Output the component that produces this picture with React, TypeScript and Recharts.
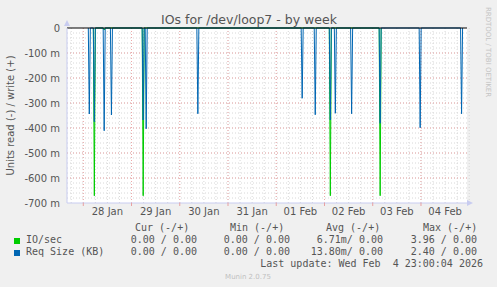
import { LineChart, Line, XAxis, YAxis, CartesianGrid, ReferenceLine } from 'recharts'

// x = hours since 28 Jan 00:00, y = milli-units (m)
const ioTimes = [5.5, 10.4, 29.8, 122.9, 147.7]
const ioValues = [-671, -8, -671, -671, -671]
const reqTimes = [3.0, 5.5, 10.4, 14.0, 29.8, 31.3, 57.0, 108.9, 115.4, 122.9, 125.4, 133.5, 147.7, 167.6, 188.2]
const reqValues = [-344, -375, -411, -348, -368, -403, -343, -281, -347, -368, -341, -343, -381, -399, -343]

const yTicks = [0, -100, -200, -300, -400, -500, -600, -700]
const midnights = [0, 24, 48, 72, 96, 120, 144, 168]
const noons = [12, 36, 60, 84, 108, 132, 156, 180]
const dayLabels = ['28 Jan', '29 Jan', '30 Jan', '31 Jan', '01 Feb', '02 Feb', '03 Feb', '04 Feb']

const legendRows = [
  { name: 'IO/sec', color: '#00CC00', cur: '0.00 / 0.00', min: '0.00 / 0.00', avg: '6.71m/ 0.00', max: '3.96 / 0.00' },
  { name: 'Req Size (KB)', color: '#0066B3', cur: '0.00 / 0.00', min: '0.00 / 0.00', avg: '13.80m/ 0.00', max: '2.40 / 0.00' },
]

const X_DOMAIN: [number, number] = [-8.1, 190.9]
const HALF = 0.5 // half a sample step (30 min resolution)

const spikes = (times: number[], values: number[]) =>
  times.flatMap((t, i) => [
    { t: t - HALF, v: 0 },
    { t, v: values[i] },
    { t: t + HALF, v: 0 },
  ])

const ioData = spikes(ioTimes, ioValues)
const reqData = spikes(reqTimes, reqValues)

const minorX = Array.from({ length: 34 }, (_, i) => -6 + i * 6)
const minorY = Array.from({ length: 34 }, (_, i) => -20 - i * 20)
const majorY = [-100, -200, -300, -400, -500, -600]

const FONT = 'DejaVu Sans, sans-serif'
const MONO = 'DejaVu Sans Mono, monospace'
const TEXT = '#555'
const AXIS = '#C8CCF0'

function DayTick({ x, y, payload }: any) {
  const v = payload.value as number
  if (v % 24 === 0) {
    return <line x1={x} x2={x} y1={y - 5} y2={y - 2} stroke="#E8A0A0" />
  }
  const label = dayLabels[noons.indexOf(v)]
  return (
    <text x={x} y={y} dy="0.71em" textAnchor="middle" fill={TEXT} fontSize={10} fontFamily={FONT}>
      {label}
    </text>
  )
}

export default function App() {
  return (
    <div style={{ position: 'absolute', left: 0, top: 0, width: 497, height: 287, background: '#F0F0F0' }}>
      <LineChart width={497} height={287} margin={{ top: 28, right: 30, bottom: 0, left: 0 }}>
        <CartesianGrid
          fill="#FFFFFF"
          stroke="#D8D8D8"
          strokeDasharray="1 2"
          verticalValues={minorX}
          horizontalValues={minorY}
        />
        <CartesianGrid
          stroke="#EBA8A8"
          strokeDasharray="1 2"
          verticalValues={midnights}
          horizontalValues={majorY}
        />
        <XAxis
          type="number"
          dataKey="t"
          domain={X_DOMAIN}
          allowDataOverflow
          ticks={[...midnights, ...noons].sort((a, b) => a - b)}
          interval={0}
          tick={<DayTick />}
          tickLine={false}
          tickSize={0}
          tickMargin={5}
          height={84}
          axisLine={{ stroke: AXIS }}
        />
        <YAxis
          type="number"
          domain={[-700, 0]}
          ticks={yTicks}
          interval={0}
          width={67}
          tickLine={false}
          tickSize={0}
          tickMargin={7}
          axisLine={{ stroke: AXIS }}
          tick={{ fill: TEXT, fontSize: 10, fontFamily: FONT }}
          tickFormatter={(v: number) => (v === 0 ? '0' : `${v} m`)}
        />
        <Line
          data={ioData}
          dataKey="v"
          type="linear"
          stroke="#00CC00"
          strokeWidth={1}
          dot={false}
          activeDot={false}
          isAnimationActive={false}
        />
        <Line
          data={reqData}
          dataKey="v"
          type="linear"
          stroke="#0066B3"
          strokeWidth={1}
          dot={false}
          activeDot={false}
          isAnimationActive={false}
        />
        <ReferenceLine y={0} stroke="#000000" strokeWidth={1} />
      </LineChart>

      <svg
        width={497}
        height={287}
        style={{ position: 'absolute', left: 0, top: 0, pointerEvents: 'none' }}
      >
        {/* axis arrows */}
        <polygon points="64,26 70,26 67,20" fill={AXIS} />
        <polygon points="467,200 467,206 473,203" fill={AXIS} />

        <text x={249} y={24} textAnchor="middle" fill={TEXT} fontSize={12.5} fontFamily={FONT}>
          IOs for /dev/loop7 - by week
        </text>
        <text
          transform="translate(14,115.5) rotate(-90)"
          textAnchor="middle"
          fill={TEXT}
          fontSize={10}
          fontFamily={FONT}
        >
          Units read (-) / write (+)
        </text>
        <text
          transform="translate(486,52) rotate(90)"
          textAnchor="middle"
          fill="#C4C4C4"
          fontSize={7}
          fontFamily={FONT}
        >
          RRDTOOL / TOBI OETIKER
        </text>

        <g fontFamily={MONO} fontSize={10} fill={TEXT}>
          <text x={135} y={231}>Cur (-/+)</text>
          <text x={230} y={231}>Min (-/+)</text>
          <text x={326} y={231}>Avg (-/+)</text>
          <text x={423} y={231}>Max (-/+)</text>
          {legendRows.map((r, i) => (
            <g key={r.name}>
              <rect x={14} y={238 + i * 12} width={6} height={6} fill={r.color} />
              <text x={26} y={243 + i * 12}>{r.name}</text>
              <text x={197} y={243 + i * 12} textAnchor="end">{r.cur}</text>
              <text x={290} y={243 + i * 12} textAnchor="end">{r.min}</text>
              <text x={383} y={243 + i * 12} textAnchor="end">{r.avg}</text>
              <text x={477} y={243 + i * 12} textAnchor="end">{r.max}</text>
            </g>
          ))}
          <text x={483} y={267} textAnchor="end">{'Last update: Wed Feb \u00a04 23:00:04 2026'}</text>
        </g>
        <text x={248} y={279} textAnchor="middle" fill="#C0C0C0" fontSize={7} fontFamily={FONT}>
          Munin 2.0.75
        </text>
      </svg>
    </div>
  )
}
